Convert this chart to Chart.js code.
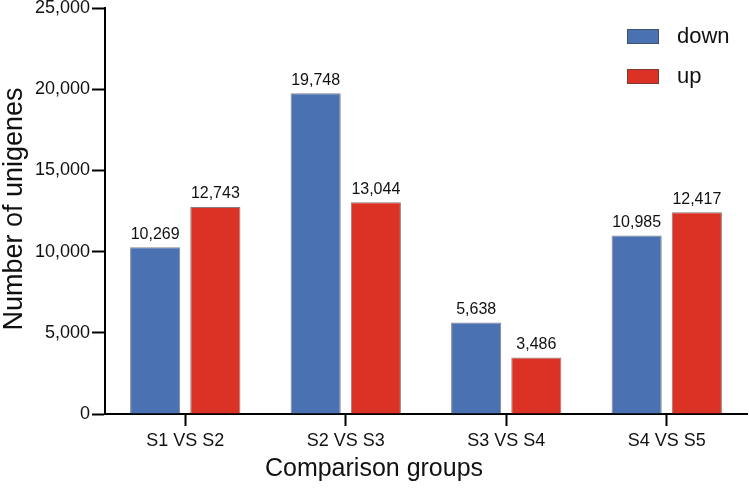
<!DOCTYPE html>
<html>
<head>
<meta charset="utf-8">
<script src="https://cdn.jsdelivr.net/npm/chart.js@4/dist/chart.umd.min.js"></script>
<style>
  html, body { margin: 0; padding: 0; background: #fff; }
  #wrap { width: 749px; height: 490px; position: relative; }
</style>
</head>
<body>
<div id="wrap"><canvas id="chart"></canvas></div>
<script>
const categories = ['S1 VS S2', 'S2 VS S3', 'S3 VS S4', 'S4 VS S5'];
const downValues = [10269, 19748, 5638, 10985];
const upValues = [12743, 13044, 3486, 12417];
const yTicks = [0, 5000, 10000, 15000, 20000, 25000];

const FONT = '"Liberation Sans", Arial, sans-serif';
const fmt = v => v.toLocaleString('en-US');

// value labels above bars, legend and axis titles
const extras = {
  id: 'extras',
  afterDatasetsDraw(chart) {
    const ctx = chart.ctx;
    ctx.save();
    ctx.fillStyle = '#111';
    ctx.font = '16px ' + FONT;
    ctx.textAlign = 'center';
    ctx.textBaseline = 'bottom';
    chart.data.datasets.forEach((ds, i) => {
      chart.getDatasetMeta(i).data.forEach((bar, j) => {
        ctx.fillText(fmt(ds.data[j]), bar.x, bar.y - 5);
      });
    });

    // legend
    ctx.font = '22px ' + FONT;
    ctx.textAlign = 'left';
    ctx.textBaseline = 'middle';
    chart.data.datasets.forEach((ds, i) => {
      const y = 29 + i * 40;
      ctx.fillStyle = ds.backgroundColor;
      ctx.fillRect(627, y, 32, 15);
      ctx.strokeStyle = 'rgba(60,60,60,0.6)';
      ctx.lineWidth = 1;
      ctx.strokeRect(627.5, y + 0.5, 31, 14);
      ctx.fillStyle = '#111';
      ctx.fillText(ds.label, 677, y + 8);
    });

    // axis titles
    ctx.textAlign = 'center';
    ctx.font = '25px ' + FONT;
    ctx.fillText('Comparison groups', 374, 469);
    ctx.font = '27px ' + FONT;
    ctx.translate(15, 209);
    ctx.rotate(-Math.PI / 2);
    ctx.fillText('Number of unigenes', 0, 0);
    ctx.restore();
  }
};

new Chart(document.getElementById('chart'), {
  type: 'bar',
  data: {
    labels: categories,
    datasets: [
      {
        label: 'down',
        data: downValues,
        backgroundColor: '#4a72b3',
        borderColor: 'rgba(50,50,60,0.6)',
        borderWidth: 1
      },
      {
        label: 'up',
        data: upValues,
        backgroundColor: '#dc3225',
        borderColor: 'rgba(60,40,40,0.6)',
        borderWidth: 1
      }
    ]
  },
  options: {
    responsive: true,
    maintainAspectRatio: false,
    animation: false,
    devicePixelRatio: 1,
    categoryPercentage: 0.75,
    barPercentage: 0.833,
    layout: { padding: { top: 0, right: 2, left: 0, bottom: 0 } },
    plugins: {
      legend: { display: false },
      tooltip: { enabled: false }
    },
    scales: {
      x: {
        afterFit: s => { s.height = 76; },
        border: { display: true, color: '#000', width: 2 },
        grid: {
          offset: false,
          drawOnChartArea: false,
          drawTicks: true,
          tickLength: 12,
          tickWidth: 2,
          color: '#000'
        },
        ticks: {
          color: '#111',
          font: { family: FONT, size: 18 },
          padding: 4
        }
      },
      y: {
        min: 0,
        max: 25000,
        afterFit: s => { s.width = 105; s.paddingTop = 8; },
        afterBuildTicks: s => { s.ticks = yTicks.map(v => ({ value: v })); },
        border: { display: true, color: '#000', width: 2 },
        grid: {
          drawOnChartArea: false,
          drawTicks: true,
          tickLength: 13,
          tickWidth: 2,
          color: '#000'
        },
        ticks: {
          color: '#111',
          font: { family: FONT, size: 18, lineHeight: 0.9 },
          padding: 2,
          callback: v => fmt(v)
        }
      }
    }
  },
  plugins: [extras]
});
</script>
</body>
</html>
